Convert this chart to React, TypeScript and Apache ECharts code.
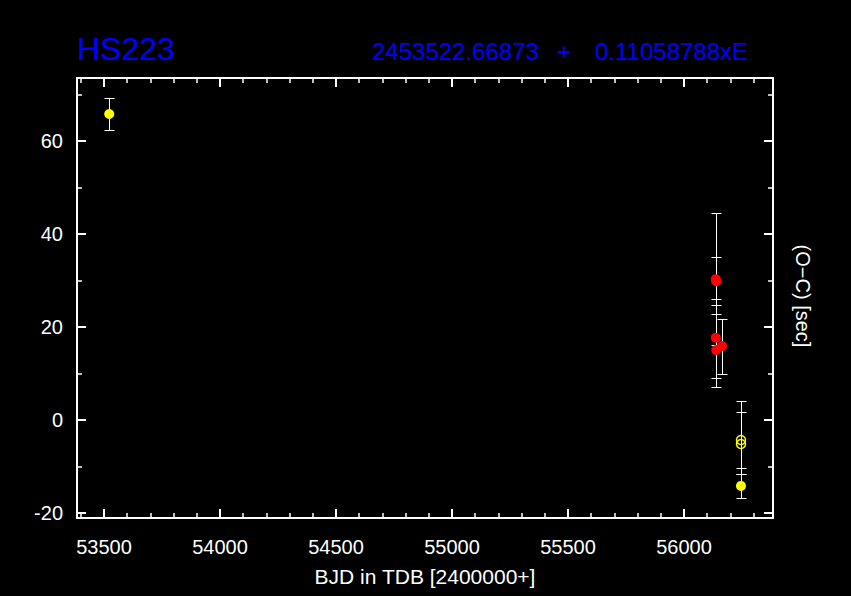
import React, { useEffect, useRef } from "react";
import * as echarts from "echarts";

// Axis ranges and ticks
const X_MIN = 53383.7;
const X_MAX = 56383.7;
const Y_MIN = -21.1;
const Y_MAX = 73.6;
const xMajorTicks = [53500, 54000, 54500, 55000, 55500, 56000];
const xMinorTicks = [
  53400, 53600, 53700, 53800, 53900, 54100, 54200, 54300, 54400, 54600, 54700, 54800, 54900,
  55100, 55200, 55300, 55400, 55600, 55700, 55800, 55900, 56100, 56200, 56300,
];
const yMajorTicks = [-20, 0, 20, 40, 60];
const yMinorTicks = [-10, 10, 30, 50, 70];

// Texts
const objectName = "HS223";
const ephemerisEpoch = "2453522.66873";
const ephemerisPlus = "+";
const ephemerisPeriod = "0.11058788xE";
const xTitle = "BJD in TDB [2400000+]";
const yTitle = "(O\u2212C) [sec]";

// Yellow filled points
const yellowX = [53522.67, 56245.7];
const yellowY = [65.85, -14.2];
const yellowLow = [62.47, -16.87];
const yellowHigh = [69.23, -11.6];

// Yellow open points
const openX = [56245.7, 56245.7];
const openY = [-4.32, -5.18];
const openLow = [-10.3, -11.7];
const openHigh = [1.7, 4.1];

// Red points
const redX = [56137, 56139, 56137, 56139, 56164];
const redY = [30.3, 29.85, 17.7, 15.05, 15.9];
const redLow = [16.1, 24.7, 9.1, 7.1, 9.8];
const redHigh = [44.5, 35.0, 26.1, 22.8, 21.8];

const FONT = "Liberation Sans";

function makeAxis(dim: "x" | "y", position: string, values: number[], major: boolean, showLabel: boolean) {
  return {
    type: "value",
    position,
    min: dim === "x" ? X_MIN : Y_MIN,
    max: dim === "x" ? X_MAX : Y_MAX,
    axisLine: { show: major, onZero: false, lineStyle: { color: "#fff", width: 2 } },
    axisTick: {
      show: true,
      inside: true,
      length: major ? 9 : 5,
      customValues: values,
      lineStyle: { color: "#fff", width: major ? 2 : 1.5 },
    },
    axisLabel: {
      show: showLabel,
      customValues: values,
      formatter: (v: number) => String(v),
      color: "#fff",
      fontSize: 20,
      fontFamily: FONT,
      margin: dim === "x" ? 19 : 14,
    },
    splitLine: { show: false },
    minorTick: { show: false },
  };
}

function errorBarSeries(xs: number[], lows: number[], highs: number[]) {
  return {
    type: "custom",
    xAxisIndex: 0,
    yAxisIndex: 0,
    z: 1,
    silent: true,
    encode: { x: 0, y: [1, 2] },
    data: xs.map((x, i) => [x, lows[i], highs[i]]),
    renderItem: (params: any, api: any) => {
      const x = api.value(0);
      const pLo = api.coord([x, api.value(1)]);
      const pHi = api.coord([x, api.value(2)]);
      const cx = Math.round(pLo[0]) + 0.5;
      const yl = Math.round(pLo[1]) + 0.5;
      const yh = Math.round(pHi[1]) + 0.5;
      const cap = 5;
      const style = { stroke: "#fff", lineWidth: 1 };
      return {
        type: "group",
        children: [
          { type: "line", shape: { x1: cx, y1: yl, x2: cx, y2: yh }, style },
          { type: "line", shape: { x1: cx - cap, y1: yl, x2: cx + cap, y2: yl }, style },
          { type: "line", shape: { x1: cx - cap, y1: yh, x2: cx + cap, y2: yh }, style },
        ],
      };
    },
  };
}

export default function App() {
  const ref = useRef<HTMLDivElement>(null);
  useEffect(() => {
    if (!ref.current) return;
    const chart = echarts.init(ref.current, null, { renderer: "svg" });
    chart.setOption({
      animation: false,
      backgroundColor: "#000",
      grid: { left: 77, right: 78, top: 78, bottom: 78, containLabel: false },
      xAxis: [
        makeAxis("x", "bottom", xMajorTicks, true, true),
        makeAxis("x", "bottom", xMinorTicks, false, false),
        makeAxis("x", "top", xMajorTicks, true, false),
        makeAxis("x", "top", xMinorTicks, false, false),
      ],
      yAxis: [
        makeAxis("y", "left", yMajorTicks, true, true),
        makeAxis("y", "left", yMinorTicks, false, false),
        makeAxis("y", "right", yMajorTicks, true, false),
        makeAxis("y", "right", yMinorTicks, false, false),
      ],
      graphic: [
        {
          type: "text",
          x: 77,
          y: 48.5,
          style: { text: objectName, fill: "#0000ff", font: `32px '${FONT}'`, verticalAlign: "middle" },
        },
        {
          type: "text",
          x: 372,
          y: 51.5,
          style: { text: ephemerisEpoch, fill: "#0000ff", font: `24px '${FONT}'`, verticalAlign: "middle" },
        },
        {
          type: "text",
          x: 557,
          y: 51.5,
          style: { text: ephemerisPlus, fill: "#0000ff", font: `24px '${FONT}'`, verticalAlign: "middle" },
        },
        {
          type: "text",
          x: 595,
          y: 51.5,
          style: { text: ephemerisPeriod, fill: "#0000ff", font: `24px '${FONT}'`, verticalAlign: "middle" },
        },
        {
          type: "text",
          x: 425,
          y: 576,
          style: {
            text: xTitle,
            fill: "#fff",
            font: `21px '${FONT}'`,
            align: "center",
            verticalAlign: "middle",
          },
        },
        {
          type: "text",
          x: 803,
          y: 296,
          rotation: -Math.PI / 2,
          style: {
            text: yTitle,
            fill: "#fff",
            font: `20px '${FONT}'`,
            align: "center",
            verticalAlign: "middle",
          },
        },
      ],
      series: [
        errorBarSeries(yellowX, yellowLow, yellowHigh),
        errorBarSeries(openX, openLow, openHigh),
        errorBarSeries(redX, redLow, redHigh),
        {
          type: "scatter",
          xAxisIndex: 0,
          yAxisIndex: 0,
          z: 3,
          symbol: "circle",
          symbolSize: 10,
          itemStyle: { color: "#ffff00", opacity: 1 },
          data: yellowX.map((x, i) => [x, yellowY[i]]),
        },
        {
          type: "scatter",
          xAxisIndex: 0,
          yAxisIndex: 0,
          z: 3,
          symbol: "circle",
          symbolSize: 9,
          itemStyle: { color: "rgba(0,0,0,0)", borderColor: "#ffff00", borderWidth: 1.5, opacity: 1 },
          data: openX.map((x, i) => [x, openY[i]]),
        },
        {
          type: "scatter",
          xAxisIndex: 0,
          yAxisIndex: 0,
          z: 3,
          symbol: "circle",
          symbolSize: 10,
          itemStyle: { color: "#ff0000", opacity: 1 },
          data: redX.map((x, i) => [x, redY[i]]),
        },
      ],
    });
    return () => chart.dispose();
  }, []);
  return (
    <div
      ref={ref}
      style={{ position: "fixed", left: 0, top: 0, width: 851, height: 596, background: "#000" }}
    />
  );
}
